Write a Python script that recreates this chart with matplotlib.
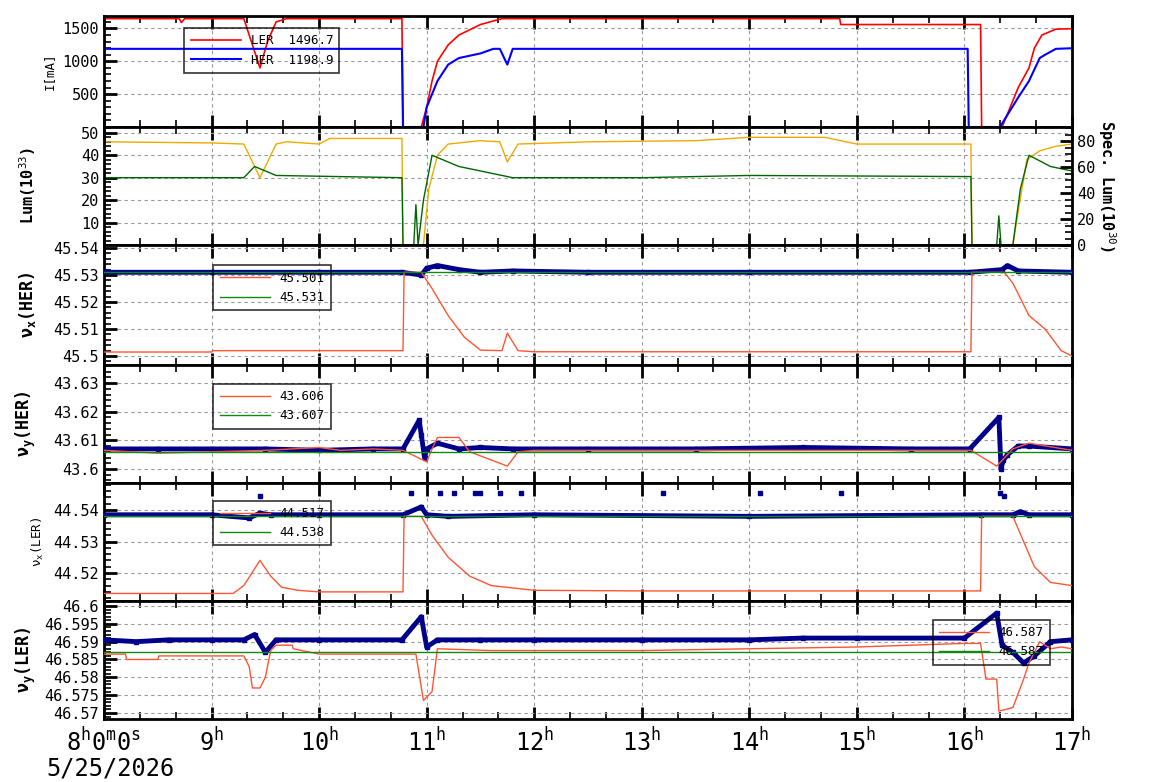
import matplotlib
matplotlib.use("Agg")
import matplotlib.pyplot as plt
from matplotlib.ticker import AutoMinorLocator, MultipleLocator

plt.rcParams['font.family'] = ['DejaVu Sans Mono']
plt.rcParams['mathtext.fontset'] = 'custom'
plt.rcParams['mathtext.rm'] = 'DejaVu Sans Mono'
plt.rcParams['mathtext.bf'] = 'DejaVu Sans Mono:bold'
plt.rcParams['mathtext.it'] = 'DejaVu Sans Mono'

# ---------------- data (hours) ----------------
ler_t = [8.0, 8.7, 8.72, 8.75, 9.3, 9.38, 9.45, 9.52, 9.6, 9.7, 10.77, 10.78, 10.95, 11.0, 11.05, 11.1, 11.2, 11.3, 11.5, 11.7, 14.84, 14.85, 16.15, 16.16, 16.35, 16.4, 16.5, 16.6, 16.65, 16.72, 16.85, 17.0]
ler_i = [1650, 1650, 1590, 1650, 1650, 1250, 900, 1300, 1600, 1650, 1650, 0, 0, 300, 700, 1000, 1250, 1400, 1560, 1650, 1650, 1560, 1560, 0, 0, 200, 600, 900, 1200, 1400, 1490, 1497]
her_t = [8.0, 10.77, 10.78, 10.97, 11.0, 11.1, 11.2, 11.3, 11.5, 11.62, 11.68, 11.75, 11.8, 16.03, 16.04, 16.33, 16.5, 16.6, 16.7, 16.75, 16.85, 17.0]
her_i = [1190, 1190, 0, 0, 300, 700, 950, 1050, 1120, 1190, 1190, 950, 1190, 1190, 0, 0, 450, 700, 1050, 1100, 1190, 1199]

lum_t = [8.0, 9.0, 9.3, 9.45, 9.6, 9.7, 10.0, 10.1, 10.77, 10.78, 10.97, 11.02, 11.1, 11.2, 11.5, 11.68, 11.75, 11.85, 12.5, 13.5, 14.0, 14.7, 15.0, 16.06, 16.07, 16.45, 16.5, 16.58, 16.7, 16.85, 17.0]
lum_o = [46, 45.5, 45, 30, 45, 46, 45, 47.5, 47.5, 0, 0, 25, 40, 45, 46.5, 46, 37, 45, 46, 46.5, 48, 48, 45, 45, 0, 0, 15, 38, 42, 44, 45]
grn_t = [8.0, 9.3, 9.4, 9.6, 10.77, 10.78, 10.88, 10.9, 10.92, 10.97, 11.05, 11.3, 11.5, 11.8, 13.0, 14.0, 16.06, 16.07, 16.3, 16.32, 16.34, 16.45, 16.52, 16.6, 16.8, 17.0]
grn_l = [30, 30, 35, 31, 30, 0, 0, 18, 0, 20, 40, 35, 33, 30, 30, 31, 30.5, 0, 0, 13, 0, 0, 25, 40, 35, 33]

nxh_t = [8.0, 9.0, 9.01, 10.78, 10.79, 10.95, 11.05, 11.2, 11.35, 11.5, 11.7, 11.75, 11.85, 12.0, 16.06, 16.07, 16.37, 16.45, 16.6, 16.75, 16.9, 17.0]
nxh_r = [45.5015, 45.5015, 45.502, 45.502, 45.531, 45.531, 45.525, 45.515, 45.507, 45.5022, 45.502, 45.5085, 45.502, 45.5016, 45.5016, 45.531, 45.531, 45.527, 45.515, 45.51, 45.502, 45.5]
nxh_bt = [8.0, 9.0, 10.0, 10.77, 10.95, 11.0, 11.1, 11.3, 11.5, 11.8, 12.5, 14.0, 16.05, 16.35, 16.4, 16.5, 17.0]
nxh_b = [45.531, 45.531, 45.531, 45.531, 45.53, 45.5325, 45.5335, 45.532, 45.531, 45.5315, 45.531, 45.531, 45.531, 45.532, 45.5335, 45.5315, 45.531]

nyh_t = [8.0, 8.5, 9.5, 10.0, 10.2, 10.5, 10.78, 11.0, 11.05, 11.1, 11.3, 11.4, 11.75, 11.85, 12.0, 13.0, 14.0, 15.0, 16.06, 16.3, 16.35, 16.45, 16.6, 17.0]
nyh_r = [43.6065, 43.6055, 43.6065, 43.6075, 43.6065, 43.607, 43.6065, 43.6025, 43.607, 43.611, 43.611, 43.606, 43.601, 43.606, 43.6065, 43.6065, 43.6065, 43.6065, 43.6065, 43.601, 43.603, 43.607, 43.609, 43.6065]
nyh_bt = [8.0, 8.5, 9.0, 9.5, 10.0, 10.5, 10.78, 10.93, 10.95, 10.98, 11.0, 11.1, 11.3, 11.5, 11.8, 12.5, 13.5, 14.5, 15.5, 16.05, 16.32, 16.34, 16.36, 16.4, 16.5, 16.6, 17.0]
nyh_b = [43.607, 43.607, 43.607, 43.607, 43.6065, 43.607, 43.607, 43.617, 43.612, 43.604, 43.607, 43.609, 43.607, 43.6075, 43.607, 43.607, 43.607, 43.6075, 43.607, 43.607, 43.618, 43.6, 43.603, 43.605, 43.608, 43.608, 43.607]

nxl_t = [8.0, 9.2, 9.3, 9.45, 9.55, 9.65, 9.8, 10.0, 10.78, 10.79, 10.95, 11.05, 11.2, 11.4, 11.6, 12.0, 13.0, 16.15, 16.16, 16.45, 16.55, 16.65, 16.8, 17.0]
nxl_r = [44.5135, 44.5135, 44.516, 44.524, 44.519, 44.5155, 44.5145, 44.514, 44.514, 44.538, 44.538, 44.532, 44.525, 44.519, 44.516, 44.5145, 44.5143, 44.5143, 44.538, 44.538, 44.53, 44.522, 44.517, 44.516]
nxl_bt = [8.0, 9.0, 9.35, 9.45, 9.55, 10.0, 10.78, 10.95, 11.0, 11.2, 12.0, 14.0, 16.15, 16.45, 16.52, 16.6, 17.0]
nxl_b = [44.5385, 44.5385, 44.5375, 44.539, 44.5385, 44.5385, 44.5385, 44.541, 44.5385, 44.538, 44.5385, 44.538, 44.5385, 44.5385, 44.5395, 44.5385, 44.5385]
out_t = [9.45, 10.85, 11.12, 11.25, 11.45, 11.5, 11.68, 11.88, 13.2, 14.1, 14.85, 16.33, 16.37]
out_v = [44.5445, 44.5455, 44.5455, 44.5455, 44.5455, 44.5455, 44.5455, 44.5455, 44.5455, 44.5455, 44.5455, 44.5455, 44.5445]

nyl_t = [8.0, 8.2, 8.21, 8.5, 8.51, 9.3, 9.35, 9.38, 9.45, 9.5, 9.55, 9.6, 9.75, 9.76, 10.0, 10.4, 10.9, 10.97, 11.05, 11.1, 11.6, 12.0, 13.0, 14.0, 15.0, 16.0, 16.15, 16.2, 16.3, 16.32, 16.45, 16.55, 16.6, 16.7, 16.8, 16.9, 17.0]
nyl_r = [46.5865, 46.5865, 46.585, 46.585, 46.586, 46.586, 46.583, 46.577, 46.577, 46.58, 46.5875, 46.589, 46.589, 46.588, 46.5865, 46.5865, 46.5865, 46.5735, 46.576, 46.588, 46.5875, 46.5875, 46.5875, 46.588, 46.5885, 46.5895, 46.5895, 46.5795, 46.5795, 46.5705, 46.5715, 46.5795, 46.584, 46.59, 46.588, 46.5885, 46.588]
nyl_bt = [8.0, 8.3, 8.6, 9.0, 9.3, 9.4, 9.5, 9.6, 10.0, 10.77, 10.95, 11.0, 11.1, 11.5, 12.0, 13.0, 14.0, 14.5, 15.0, 16.0, 16.3, 16.35, 16.45, 16.55, 16.65, 16.8, 17.0]
nyl_b = [46.5905, 46.59, 46.5905, 46.5905, 46.5905, 46.592, 46.587, 46.5905, 46.5905, 46.5905, 46.597, 46.5885, 46.5905, 46.5905, 46.5905, 46.5905, 46.5905, 46.591, 46.591, 46.591, 46.598, 46.589, 46.587, 46.584, 46.586, 46.59, 46.5905]

# ---------------- figure ----------------
W, H = 1154, 782
fig = plt.figure(figsize=(W / 100, H / 100), dpi=100)
L, R = 104 / W, 1072 / W
bounds = [16, 127, 245, 365, 483, 601, 719]
axes = []
for i in range(6):
    top, bot = bounds[i], bounds[i + 1]
    ax = fig.add_axes([L, 1 - bot / H, R - L, (bot - top) / H])
    axes.append(ax)

NAVY = '#00008b'
RED = '#ff5533'
GRN = '#118811'

def style(ax, minor):
    ax.set_xlim(8, 17)
    ax.xaxis.set_major_locator(MultipleLocator(1))
    ax.xaxis.set_minor_locator(MultipleLocator(1 / 3))
    ax.yaxis.set_minor_locator(AutoMinorLocator(minor))
    ax.grid(True, which='major', ls=(0, (3, 3)), color='#999999', lw=0.8)
    ax.tick_params(which='both', direction='in', top=True, labelsize=11)
    ax.tick_params(which='major', length=9, width=2.0)
    ax.tick_params(which='minor', length=5, width=1.2)
    for s in ax.spines.values():
        s.set_linewidth(2)
    if ax is not axes[-1]:
        ax.tick_params(labelbottom=False)

def legend(ax, pos):
    lg = ax.legend(loc='upper left', bbox_to_anchor=pos, fontsize=9, fancybox=False,
                   edgecolor='black', facecolor='none', handlelength=4, borderpad=0.5,
                   borderaxespad=0)
    lg.get_frame().set_linewidth(1.2)

# panel 1
a = axes[0]
a.plot(ler_t, ler_i, color='red', lw=1.2, label='LER  1496.7')
a.plot(her_t, her_i, color='blue', lw=1.5, label='HER  1198.9')
a.set_ylim(0, 1690)
a.set_yticks([500, 1000, 1500])
style(a, 5)
a.set_ylabel('I[mA]', fontsize=9)
legend(a, (0.083, 0.89))

# panel 2
a = axes[1]
a.plot(lum_t, lum_o, color='#eeaa00', lw=1.0)
a.plot(grn_t, grn_l, color='#006600', lw=1.0)
a.set_ylim(0, 52.6)
a.set_yticks([10, 20, 30, 40, 50])
style(a, 5)
a.set_ylabel('Lum(10$^{33}$)', fontsize=11, fontweight='bold')
a2 = a.twinx()
a2.set_ylim(0, 90.8)
a2.set_yticks([0, 20, 40, 60, 80])
a2.yaxis.set_minor_locator(AutoMinorLocator(4))
a2.tick_params(which='both', direction='in', labelsize=11)
a2.tick_params(which='major', length=9, width=2.0)
a2.tick_params(which='minor', length=5, width=1.2)
a2.set_ylabel('Spec. Lum(10$^{30}$)', fontsize=11, fontweight='bold', rotation=270, labelpad=16)

def tune(ax, bt, b, rt, r, g, ylim, yt, leg_pos, labels):
    ax.plot(bt, b, color=NAVY, lw=3.5, marker='s', ms=3, zorder=3)
    ax.plot(rt, r, color=RED, lw=1.0, label=labels[0], zorder=4)
    ax.axhline(g, color=GRN, lw=1.0, label=labels[1], zorder=4)
    ax.set_ylim(*ylim)
    ax.set_yticks(yt)
    ax.set_yticklabels([f'{v:g}' for v in yt])
    legend(ax, leg_pos)

# panel 3
a = axes[2]
tune(a, nxh_bt, nxh_b, nxh_t, nxh_r, 45.531, (45.4967, 45.5411),
     [45.5, 45.51, 45.52, 45.53, 45.54], (0.113, 0.83), ['45.501', '45.531'])
style(a, 5)
a.set_ylabel(r'$\mathbf{\nu_x}$(HER)', fontsize=12, fontweight='bold')

# panel 4
a = axes[3]
tune(a, nyh_bt, nyh_b, nyh_t, nyh_r, 43.606, (43.5951, 43.6363),
     [43.6, 43.61, 43.62, 43.63], (0.113, 0.84), ['43.606', '43.607'])
style(a, 5)
a.set_ylabel(r'$\mathbf{\nu_y}$(HER)', fontsize=12, fontweight='bold')

# panel 5
a = axes[4]
tune(a, nxl_bt, nxl_b, nxl_t, nxl_r, 44.538, (44.5111, 44.5486),
     [44.52, 44.53, 44.54], (0.113, 0.85), ['44.517', '44.538'])
a.plot(out_t, out_v, ls='none', marker='s', ms=2.5, color=NAVY)
style(a, 5)
a.set_ylabel(r'$\nu_x$(LER)', fontsize=9)

# panel 6
a = axes[5]
tune(a, nyl_bt, nyl_b, nyl_t, nyl_r, 46.587, (46.5683, 46.6014),
     [46.57, 46.575, 46.58, 46.585, 46.59, 46.595, 46.6], (0.856, 0.84), ['46.587', '46.587'])
style(a, 5)
a.set_ylabel(r'$\mathbf{\nu_y}$(LER)', fontsize=12, fontweight='bold')
hours = list(range(8, 18))
a.set_xticks(hours)
a.set_xticklabels(['8$^{h}$0$^{m}$0$^{s}$'] + [f'{h}$^{{h}}$' for h in hours[1:]], fontsize=17)
a.tick_params(axis='x', pad=6)
fig.text(46 / W, 1 - 768 / H, '5/25/2026', fontsize=17, va='center', ha='left')

for ax in axes:
    ax.yaxis.set_label_coords(-0.068, 0.5)
axes[0].yaxis.set_label_coords(-0.05, 0.5)
axes[4].yaxis.set_label_coords(-0.06, 0.5)

fig.savefig('out.png', dpi=100)
